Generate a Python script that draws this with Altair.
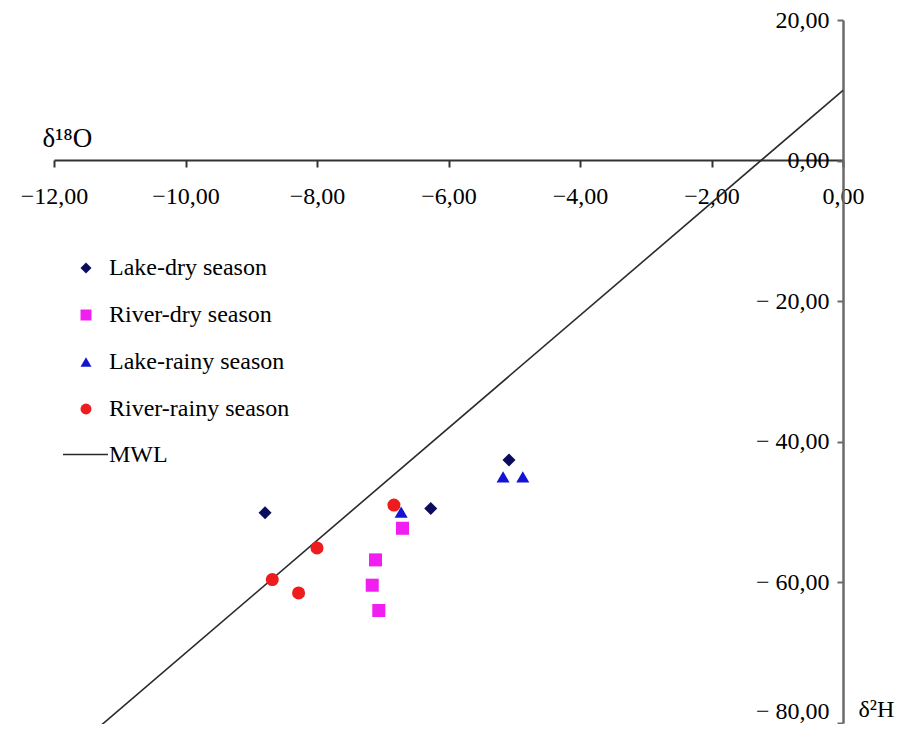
import altair as alt
import pandas as pd

# Series values (x = δ18O, y = δ2H)
series_names = ["Lake-dry season", "River-dry season", "Lake-rainy season", "River-rainy season"]
lake_dry_o = [-8.79, -6.27, -5.08]
lake_dry_h = [-50.1, -49.5, -42.6]
river_dry_o = [-6.70, -7.11, -7.16, -7.06]
river_dry_h = [-52.3, -56.8, -60.4, -64.0]
lake_rainy_o = [-6.72, -5.17, -4.87]
lake_rainy_h = [-50.0, -45.0, -45.0]
river_rainy_o = [-6.83, -8.00, -8.68, -8.28]
river_rainy_h = [-49.0, -55.1, -59.6, -61.5]
mwl_o = [-11.33, 0.0]
mwl_h = [-80.7, 10.0]

x_ticks = [-12, -10, -8, -6, -4, -2, 0]
y_ticks = [-80, -60, -40, -20, 0, 20]

colors = ["#0c0c5e", "#f01ef0", "#1414d2", "#ee1c1c"]
shapes = ["diamond", "square", "triangle-up", "circle"]

rows = []
for name, xs, ys in zip(series_names,
                        [lake_dry_o, river_dry_o, lake_rainy_o, river_rainy_o],
                        [lake_dry_h, river_dry_h, lake_rainy_h, river_rainy_h]):
    for a, b in zip(xs, ys):
        rows.append({"series": name, "o18": a, "h2": b})
pts = pd.DataFrame(rows)
line_df = pd.DataFrame({"name": ["MWL"] * len(mwl_o), "o18": mwl_o, "h2": mwl_h})

FONT = "Liberation Serif"
W, H = 789, 703

x_enc = alt.X(
    "o18:Q",
    scale=alt.Scale(domain=[-12, 0], nice=False, zero=False),
    axis=alt.Axis(
        orient="bottom", offset=-563, values=x_ticks, grid=False,
        labelFlush=False, labelOverlap=False,
        domainColor="#333333", domainWidth=2, tickColor="#333333", tickWidth=2,
        tickSize=7, labelPadding=17, labelFont=FONT, labelFontSize=24,
        labelColor="#000000", labelBaseline="top",
        labelExpr="(datum.value < 0 ? '\u2212' : '') + replace(format(abs(datum.value), '.2f'), '.', ',')",
        title="δ¹⁸O", titleFont=FONT, titleFontSize=27, titleFontWeight="normal",
        titleColor="#000000", titleX=-12, titleY=-14, titleAlign="left",
        titleBaseline="alphabetic", titleAnchor="start",
    ),
)
y_enc = alt.Y(
    "h2:Q",
    scale=alt.Scale(domain=[-80, 20], nice=False, zero=False),
    axis=alt.Axis(
        orient="left", offset=-W, values=y_ticks, grid=False,
        labelFlush=False, labelOverlap=False,
        domainColor="#6a6a6a", domainWidth=2.5, tickColor="#6a6a6a", tickWidth=2,
        tickSize=6, labelPadding=8, labelFont=FONT, labelFontSize=24,
        labelColor="#000000",
        labelBaseline={"condition": {"test": "datum.value <= -80", "value": "bottom"},
                       "value": "middle"},
        labelExpr="(datum.value < 0 ? '\u2212 ' : '') + replace(format(abs(datum.value), '.2f'), '.', ',')",
        title="δ²H", titleFont=FONT, titleFontSize=24, titleFontWeight="normal",
        titleColor="#000000", titleAngle=0, titleX=15, titleY=701,
        titleAlign="left", titleBaseline="bottom", titleAnchor="start",
    ),
)

line = alt.Chart(line_df).mark_line(strokeWidth=1.6, clip=False).encode(
    x=x_enc,
    y=y_enc,
    stroke=alt.Stroke(
        "name:N",
        scale=alt.Scale(domain=["MWL"], range=["#2a2a2a"]),
        legend=alt.Legend(
            title=None, orient="none", legendX=8, legendY=411, padding=0,
            symbolType="stroke", symbolSize=2025, symbolStrokeWidth=1.6,
            labelFont=FONT, labelFontSize=24, labelColor="#000000", labelOffset=0,
            labelLimit=300,
        ),
    ),
)

pt_legend = alt.Legend(
    title=None, orient="none", legendX=20, legendY=236, padding=0,
    symbolSize=120, rowPadding=23, labelFont=FONT, labelFontSize=24,
    labelColor="#000000", labelOffset=11, symbolOpacity=1, labelLimit=300,
)

points = alt.Chart(pts).mark_point(filled=True, opacity=1, size=170).encode(
    x=x_enc,
    y=y_enc,
    color=alt.Color(
        "series:N",
        scale=alt.Scale(domain=series_names, range=colors),
        legend=pt_legend,
    ),
    shape=alt.Shape(
        "series:N",
        scale=alt.Scale(domain=series_names, range=shapes),
        legend=pt_legend,
    ),
)

chart = (
    alt.layer(line, points)
    .resolve_legend(stroke="independent")
    .properties(
        width=W, height=H,
        background="#ffffff",
        autosize=alt.AutoSizeParams(type="none"),
        padding={"left": 46, "top": 12, "right": 53, "bottom": 1},
    )
    .configure_view(strokeWidth=0, stroke="transparent")
)

chart.save("out.html", embed_options={"renderer": "svg", "actions": False})
